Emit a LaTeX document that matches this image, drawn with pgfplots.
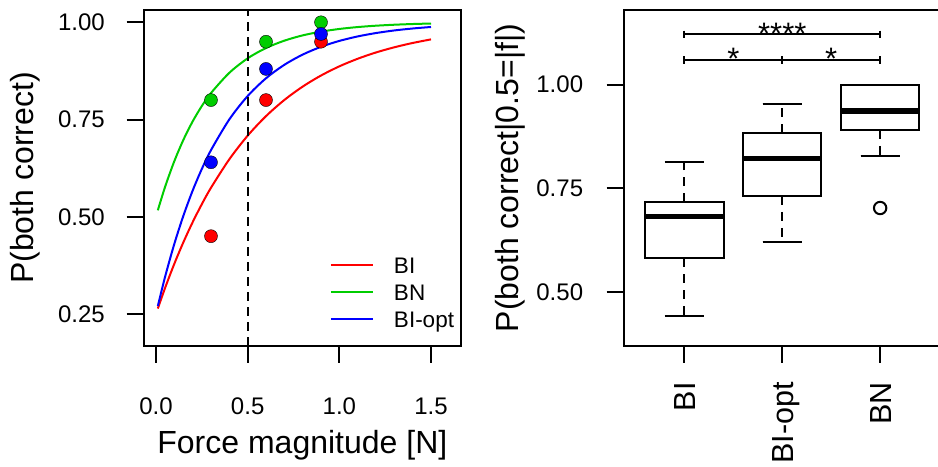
\documentclass[border=0pt]{standalone}
\usepackage{fontspec}
\setmainfont{Liberation Sans}
\usepackage{pgfplots}
\pgfplotsset{compat=1.18}
\usepgfplotslibrary{statistics}
\definecolor{rred}{HTML}{FF0000}
\definecolor{rgreen}{HTML}{00CD00}
\definecolor{rblue}{HTML}{0000FF}
\begin{document}
\begin{tikzpicture}[x=1bp,y=1bp]
\pgfplotsset{
  rstyle/.style={
    scale only axis,
    axis line style={line width=2bp},
    tick align=outside, major tick length=17bp,
    tick style={line width=2bp, black},
    xtick pos=left, ytick pos=left,
    /pgf/number format/assume math mode=true,
    label style={font=\fontsize{32bp}{38bp}\selectfont},
    tick label style={font=\fontsize{24bp}{28bp}\selectfont},
  }
}
% ---------------- left panel ----------------
\begin{axis}[rstyle,
  at={(143.7bp,121bp)}, anchor=south west,
  width=317.3bp, height=336bp,
  xmin=-0.0671, xmax=1.6636, ymin=0.1677, ymax=1.0316,
  xtick={0,0.5,1,1.5}, ytick={0.25,0.5,0.75,1},
  xticklabel style={inner sep=0pt, yshift=-35bp, /pgf/number format/fixed, /pgf/number format/fixed zerofill, /pgf/number format/precision=1},
  yticklabel style={inner sep=0pt, xshift=-21.7bp, /pgf/number format/fixed, /pgf/number format/fixed zerofill, /pgf/number format/precision=2},
  xlabel={Force magnitude [N]},
  ylabel={P(both correct)},
  xlabel style={at={(axis description cs:0.5,-0.3214)}, anchor=base},
  ylabel style={at={(axis description cs:-0.374,0.5)}, anchor=center},
  legend image code/.code={\draw[#1, line width=2bp] (0bp,0bp) -- (42bp,0bp);},
  legend style={draw=none, fill=none, at={(0.5871,0.264)}, anchor=north west,
    inner sep=0pt, outer sep=0pt, row sep=11bp,
    font=\fontsize{22.5bp}{26bp}\selectfont,
    cells={anchor=west},
    nodes={inner sep=0pt, text height=16bp, text depth=0bp},
    /tikz/every odd column/.append style={column sep=20bp}},
]
\addplot[rred, line width=2bp, smooth] coordinates {
(0.01,0.2640)(0.05,0.3176)(0.1,0.3792)(0.15,0.4351)(0.2,0.4861)(0.25,0.5324)(0.3,0.5746)(0.4,0.6478)(0.5,0.7085)(0.6,0.7587)(0.7,0.8002)(0.8,0.8346)(0.9,0.8631)(1.0,0.8867)(1.1,0.9062)(1.2,0.9224)(1.3,0.9357)(1.4,0.9468)(1.5,0.9560)};
\addlegendentry{BI}
\addplot[rgreen, line width=2bp, smooth] coordinates {
(0.01,0.5166)(0.05,0.5775)(0.1,0.6430)(0.15,0.6984)(0.2,0.7452)(0.25,0.7847)(0.3,0.8181)(0.4,0.8701)(0.5,0.9073)(0.6,0.9338)(0.7,0.9527)(0.8,0.9663)(0.9,0.9759)(1.0,0.9828)(1.1,0.9877)(1.2,0.9912)(1.3,0.9937)(1.4,0.9955)(1.5,0.9968)};
\addlegendentry{BN}
\addplot[rblue, line width=2bp, smooth] coordinates {
(0.01,0.2703)(0.05,0.3464)(0.1,0.4303)(0.15,0.5035)(0.2,0.5673)(0.25,0.6229)(0.3,0.6713)(0.4,0.7503)(0.5,0.8104)(0.6,0.8560)(0.7,0.8906)(0.8,0.9169)(0.9,0.9369)(1.0,0.9521)(1.1,0.9636)(1.2,0.9723)(1.3,0.9790)(1.4,0.9840)(1.5,0.9879)};
\addlegendentry{BI-opt}
\addplot[black, line width=2bp, dash pattern=on 9bp off 6bp, forget plot] coordinates {(0.5,0.1677)(0.5,1.0316)};
\addplot[only marks, mark=*, mark size=6.5bp, mark options={draw=none, fill=rred}, forget plot] coordinates {(0.3,0.45)(0.6,0.80)(0.9,0.95)};
\addplot[only marks, mark=*, mark size=6.5bp, mark options={draw=none, fill=rgreen}, forget plot] coordinates {(0.3,0.80)(0.6,0.95)(0.9,1.00)};
\addplot[only marks, mark=*, mark size=6.5bp, mark options={draw=none, fill=rblue}, forget plot] coordinates {(0.3,0.64)(0.6,0.88)(0.9,0.97)};
\end{axis}
% ---------------- right panel ----------------
\begin{axis}[rstyle,
  at={(623.7bp,121bp)}, anchor=south west,
  width=317.1bp, height=336bp,
  xmin=0.38, xmax=3.62, ymin=0.3707, ymax=1.1799,
  xtick={1,2,3}, xticklabels={BI,BI-opt,BN},
  ytick={0.5,0.75,1},
  xticklabel style={font=\fontsize{30.5bp}{36bp}\selectfont, yshift=-19bp, rotate=90, anchor=east, inner sep=0pt, text height=21.8bp, text depth=0bp},
  yticklabel style={inner sep=0pt, xshift=-23.4bp, /pgf/number format/fixed, /pgf/number format/fixed zerofill, /pgf/number format/precision=2},
  ylabel={P(both correct|0.5=|f|)},
  ylabel style={at={(axis description cs:-0.3586,0.5)}, anchor=center},
  boxplot/draw direction=y,
  boxplot/every box/.style={draw=black, line width=2bp},
  boxplot/every median/.style={draw=black, line width=5.5bp},
  boxplot/every whisker/.style={draw=black, line width=2bp, dash pattern=on 9bp off 7bp},
]
\addplot[black, boxplot prepared={lower whisker=0.442, lower quartile=0.582, median=0.682, upper quartile=0.717, upper whisker=0.813, draw position=1, box extend=0.8, whisker extend=0.4}] coordinates {};
\addplot[black, boxplot prepared={lower whisker=0.620, lower quartile=0.732, median=0.822, upper quartile=0.884, upper whisker=0.954, draw position=2, box extend=0.8, whisker extend=0.4}] coordinates {};
\addplot[black, boxplot prepared={lower whisker=0.829, lower quartile=0.891, median=0.937, upper quartile=1.000, upper whisker=1.000, draw position=3, box extend=0.8, whisker extend=0.4}] coordinates {};
% whisker caps (solid)
\addplot[black, line width=2bp, unbounded coords=jump] coordinates {
(0.8,0.813)(1.2,0.813)(1,nan)(0.8,0.442)(1.2,0.442)(1,nan)
(1.8,0.954)(2.2,0.954)(2,nan)(1.8,0.620)(2.2,0.620)(2,nan)
(2.8,0.829)(3.2,0.829)};
% outlier
\addplot[only marks, mark=o, mark size=6.2bp, mark options={black, line width=2bp}] coordinates {(3,0.703)};
% significance brackets
\addplot[black, line width=2bp, mark=|, mark size=3.8bp, mark options={solid}] coordinates {(1,1.121)(3,1.121)};
\addplot[black, line width=2bp, mark=|, mark size=3.8bp, mark options={solid}] coordinates {(1,1.059)(2,1.059)(3,1.059)};
\node[font=\fontsize{31bp}{36bp}\selectfont, anchor=base, inner sep=0pt] at (axis cs:2,1.0975) {****};
\node[font=\fontsize{31bp}{36bp}\selectfont, anchor=base, inner sep=0pt] at (axis cs:1.5,1.0361) {*};
\node[font=\fontsize{31bp}{36bp}\selectfont, anchor=base, inner sep=0pt] at (axis cs:2.5,1.0361) {*};
\end{axis}
\pgfresetboundingbox
\path[use as bounding box] (0,0) rectangle (938,467);
\end{tikzpicture}
\end{document}
